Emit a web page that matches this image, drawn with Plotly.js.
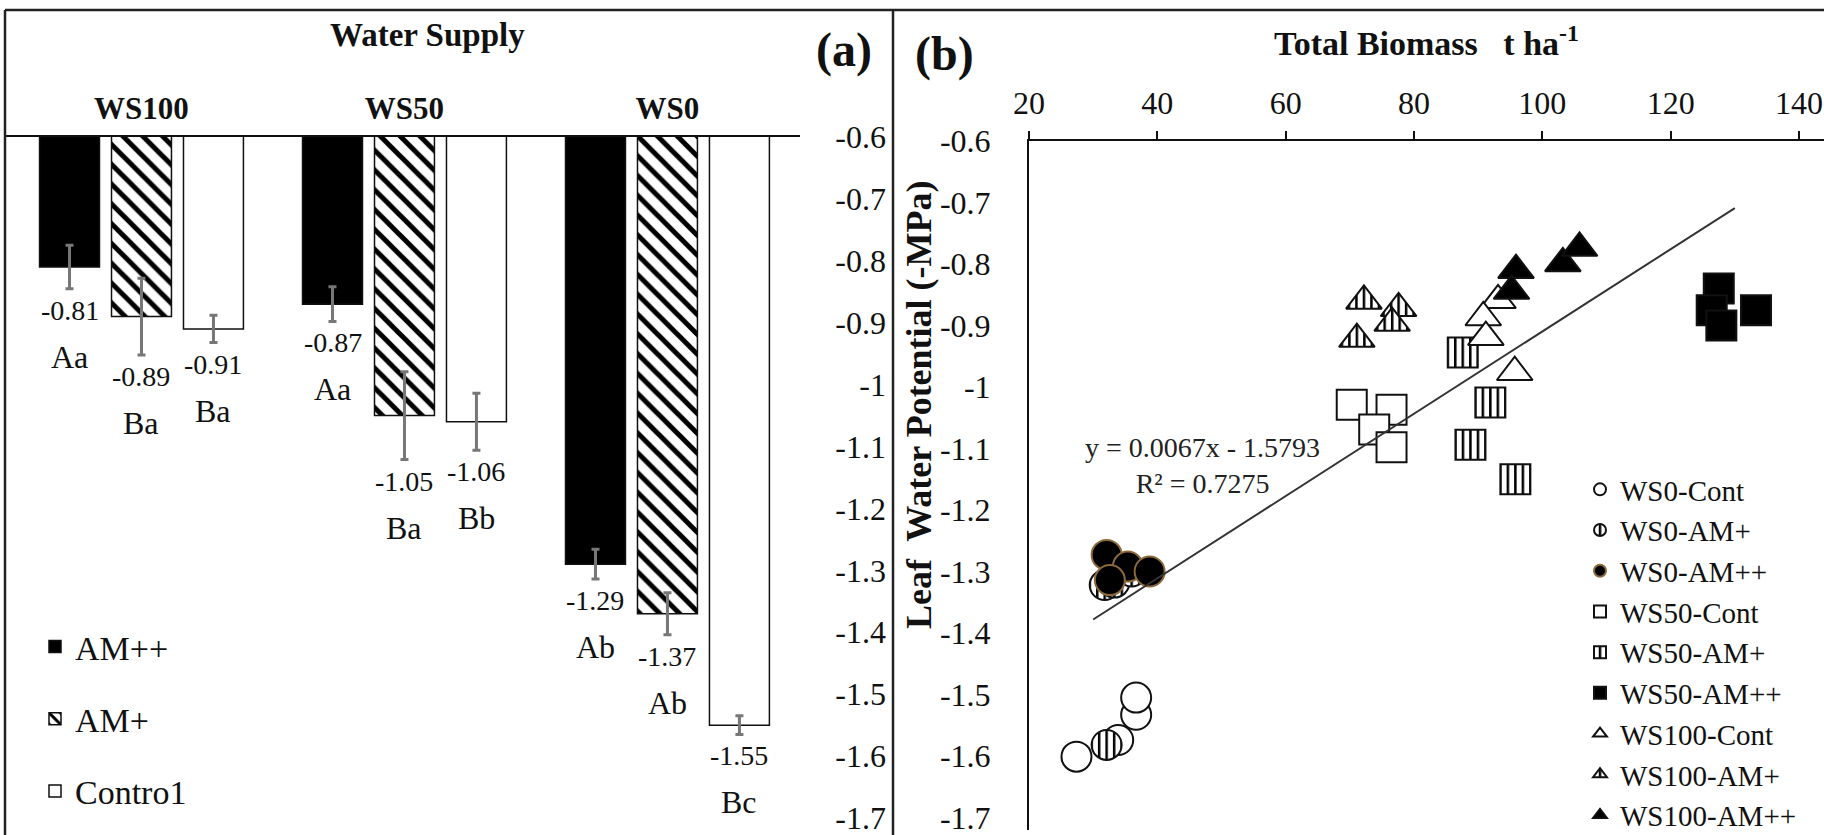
<!DOCTYPE html>
<html>
<head>
<meta charset="utf-8">
<script src="https://cdn.plot.ly/plotly-3.0.1.min.js"></script>
<style>
html,body{margin:0;padding:0;background:#ffffff;}
#chart{width:1824px;height:835px;}
</style>
</head>
<body>
<div id="chart"></div>
<script>
// ---------------- Panel (a): bar chart data ----------------
const waterSupply = ['WS100', 'WS50', 'WS0'];
const barNames = ['AM++', 'AM+', 'Contro1'];
const lwpAMpp = [-0.81, -0.87, -1.29];
const lwpAMp  = [-0.89, -1.05, -1.37];
const lwpCtrl = [-0.91, -1.06, -1.55];
const errAMpp = [0.035, 0.028, 0.024];
const errAMp  = [0.062, 0.071, 0.034];
const errCtrl = [0.022, 0.046, 0.015];
const letAMpp = ['Aa', 'Aa', 'Ab'];
const letAMp  = ['Ba', 'Ba', 'Ab'];
const letCtrl = ['Ba', 'Bb', 'Bc'];

// shared y ticks (leaf water potential)
const yTickVals = [-0.6, -0.7, -0.8, -0.9, -1.0, -1.1, -1.2, -1.3, -1.4, -1.5, -1.6, -1.7];
const yTickText = ['-0.6', '-0.7', '-0.8', '-0.9', '-1', '-1.1', '-1.2', '-1.3', '-1.4', '-1.5', '-1.6', '-1.7'];

// ---------------- Panel (b): scatter data ----------------
const ws0ContX   = [27.4, 33.9, 36.7, 36.7];
const ws0ContY   = [-1.601, -1.574, -1.533, -1.505];
const ws0AMpX    = [31.8, 33.3, 36.0, 32.1];
const ws0AMpY    = [-1.322, -1.318, -1.300, -1.582];
const ws0AMppX   = [32.1, 35.4, 38.8, 32.6];
const ws0AMppY   = [-1.273, -1.292, -1.300, -1.314];
const ws50ContX  = [70.3, 76.5, 73.8, 76.5];
const ws50ContY  = [-1.029, -1.037, -1.069, -1.098];
const ws50AMpX   = [87.6, 91.9, 88.8, 95.8];
const ws50AMpY   = [-0.944, -1.025, -1.094, -1.150];
const ws50AMppX  = [127.5, 126.4, 127.9, 133.3];
const ws50AMppY  = [-0.840, -0.875, -0.900, -0.875];
const ws100ContX = [93.1, 90.8, 91.2, 95.7];
const ws100ContY = [-0.859, -0.887, -0.919, -0.976];
const ws100AMpX  = [72.2, 77.6, 71.1, 76.6];
const ws100AMpY  = [-0.860, -0.872, -0.922, -0.896];
const ws100AMppX = [95.9, 95.2, 103.2, 105.8];
const ws100AMppY = [-0.810, -0.844, -0.799, -0.774];
const trendX = [30, 130];
const trendY = [-1.378, -0.709];
const eqLines = ['y = 0.0067x - 1.5793', 'R\u00b2 = 0.7275'];
const eqPos = [47.0, -1.127];

// ---------------- helpers ----------------
const W = 1824, H = 835;
const px = v => v / W;
const py = v => 1 - v / H;
const SERIF = '"Liberation Serif", "Times New Roman", serif';
const INK = '#111111';

const BARGAP = 0.179, BARGROUPGAP = 0.167;

const barVals = [lwpAMpp, lwpAMp, lwpCtrl];
const barErrs = [errAMpp, errAMp, errCtrl];
const barLets = [letAMpp, letAMp, letCtrl];

const barStyles = [
  {color: '#000000'},
  {color: '#ffffff', pattern: {shape: '\\', fgcolor: '#000000', bgcolor: '#ffffff', size: 14, solidity: 0.36, fillmode: 'replace'}},
  {color: '#ffffff'}
];

const traces = [];
for (let s = 0; s < 3; s++) {
  traces.push({
    type: 'bar', name: barNames[s], x: waterSupply, y: barVals[s],
    xaxis: 'x', yaxis: 'y', legend: 'legend', legendgroup: 'g' + s,
    marker: Object.assign({line: {color: INK, width: 1.5}}, barStyles[s]),
    error_y: {type: 'data', array: barErrs[s], visible: true, color: '#777777', thickness: 3, width: 4},
    hoverinfo: 'skip'
  });
}

function sc(name, xs, ys, symbol, fill, lineColor, size, uid) {
  return {
    type: 'scatter', mode: 'markers', name: name, x: xs, y: ys,
    xaxis: 'x2', yaxis: 'y2', legend: 'legend2', uid: uid,
    marker: {symbol: symbol, size: size, color: fill, line: {color: lineColor, width: 2}},
    cliponaxis: false, hoverinfo: 'skip'
  };
}
traces.push(sc('WS0-Cont',   ws0ContX,   ws0ContY,   'circle',      '#ffffff', INK, 30, 'ws0cont'));
traces.push(sc('WS0-AM+',    ws0AMpX,    ws0AMpY,    'circle',      '#ffffff', INK, 30, 'ws0amp'));
traces.push(sc('WS0-AM++',   ws0AMppX,   ws0AMppY,   'circle',      '#000000', '#8a6a3a', 30, 'ws0ampp'));
traces.push(sc('WS50-Cont',  ws50ContX,  ws50ContY,  'square',      '#ffffff', INK, 30, 'ws50cont'));
traces.push(sc('WS50-AM+',   ws50AMpX,   ws50AMpY,   'square',      '#ffffff', INK, 30, 'ws50amp'));
traces.push(sc('WS50-AM++',  ws50AMppX,  ws50AMppY,  'square',      '#000000', INK, 30, 'ws50ampp'));
traces.push(sc('WS100-Cont', ws100ContX, ws100ContY, 'triangle-up', '#ffffff', INK, 31, 'ws100cont'));
traces.push(sc('WS100-AM+',  ws100AMpX,  ws100AMpY,  'triangle-up', '#ffffff', INK, 31, 'ws100amp'));
traces.push(sc('WS100-AM++', ws100AMppX, ws100AMppY, 'triangle-up', '#000000', INK, 31, 'ws100ampp'));
traces.push({
  type: 'scatter', mode: 'lines', name: 'Linear trend', x: trendX, y: trendY,
  xaxis: 'x2', yaxis: 'y2', showlegend: false, line: {color: '#333333', width: 2}, hoverinfo: 'skip'
});

const STRIPED = ['ws0amp', 'ws50amp', 'ws100amp'];

// ---------------- annotations ----------------
const annotations = [];
const slot = (1 - BARGAP) / 3;
for (let s = 0; s < 3; s++) {
  for (let c = 0; c < 3; c++) {
    const v = barVals[s][c], e = barErrs[s][c];
    annotations.push({xref: 'x', yref: 'y', x: c + (s - 1) * slot, y: v - e, xanchor: 'center', yanchor: 'top',
      yshift: -4, showarrow: false, text: v.toFixed(2),
      font: {family: SERIF, size: 28, color: INK}});
    annotations.push({xref: 'x', yref: 'y', x: c + (s - 1) * slot, y: v - e, xanchor: 'center', yanchor: 'top',
      yshift: -48, showarrow: false, text: barLets[s][c],
      font: {family: SERIF, size: 32, color: INK}});
  }
}
function paperText(text, x, y, size, extra) {
  return Object.assign({xref: 'paper', yref: 'paper', x: px(x), y: py(y), xanchor: 'center', yanchor: 'middle',
    showarrow: false, text: text, font: {family: SERIF, size: size, color: INK, weight: 'bold'}}, extra || {});
}
annotations.push(paperText('Water Supply', 427, 35, 33));
annotations.push(paperText('(a)', 844, 50, 48));
annotations.push(paperText('(b)', 945, 54, 48));
annotations.push(paperText('Leaf\u00a0 Water Potential (-MPa)', 919, 405, 36, {textangle: -90}));
annotations.push({xref: 'x2', yref: 'y2', x: eqPos[0], y: eqPos[1], xanchor: 'center', yanchor: 'middle', showarrow: false,
  text: eqLines.join('<br>'), font: {family: SERIF, size: 28, color: '#222222'}});

// ---------------- frame shapes ----------------
const frameLine = {color: '#222222', width: 2.5};
const shapes = [
  {type: 'line', xref: 'paper', yref: 'paper', x0: px(5), x1: 1, y0: py(10), y1: py(10), line: frameLine},
  {type: 'line', xref: 'paper', yref: 'paper', x0: px(5), x1: px(5), y0: 0, y1: py(10), line: frameLine},
  {type: 'line', xref: 'paper', yref: 'paper', x0: px(893), x1: px(893), y0: 0, y1: py(10), line: frameLine}
];

const tickFont = {family: SERIF, size: 32, color: INK};

const layout = {
  width: W, height: H,
  margin: {l: 0, r: 0, t: 0, b: 0, pad: 0, autoexpand: false},
  paper_bgcolor: '#ffffff', plot_bgcolor: 'rgba(0,0,0,0)',
  font: {family: SERIF, color: INK},
  barmode: 'group', bargap: BARGAP, bargroupgap: BARGROUPGAP,
  xaxis: {
    domain: [px(5), px(800)], range: [-0.519, 2.504], type: 'category', side: 'top', anchor: 'y',
    showline: true, linecolor: INK, linewidth: 2, ticks: '', showgrid: false, zeroline: false,
    tickfont: {family: SERIF, size: 31, color: INK, weight: 'bold'}, ticklabelstandoff: 4
  },
  yaxis: {
    domain: [py(818), py(137)], range: [-1.7, -0.6], anchor: 'free', position: px(886), side: 'left',
    showline: false, showgrid: false, zeroline: false, ticks: '', ticklabeloverflow: 'allow',
    tickmode: 'array', tickvals: yTickVals, ticktext: yTickText, tickfont: tickFont
  },
  xaxis2: {
    domain: [px(1029), 1], range: [20, 143.9], side: 'top', anchor: 'y2',
    showline: true, linecolor: INK, linewidth: 2, ticks: 'outside', ticklen: 8, tickwidth: 2, tickcolor: INK,
    tick0: 20, dtick: 20, showgrid: false, zeroline: false, tickfont: tickFont, ticklabelstandoff: 4,
    ticklabeloverflow: 'allow',
    title: {text: 'Total Biomass\u00a0\u00a0 t ha<sup>-1</sup>', font: {family: SERIF, size: 34, color: INK, weight: 'bold'}, standoff: 19}
  },
  yaxis2: {
    domain: [py(830), py(141)], range: [-1.7203, -0.6], anchor: 'x2', side: 'left',
    showline: true, linecolor: INK, linewidth: 2, ticks: '', showgrid: false, zeroline: false,
    ticklabeloverflow: 'allow',
    tickmode: 'array', tickvals: yTickVals, ticktext: yTickText, tickfont: tickFont, ticklabelstandoff: 30
  },
  legend: {
    x: px(35), xanchor: 'left', y: py(618), yanchor: 'top', bgcolor: 'rgba(0,0,0,0)',
    font: {family: SERIF, size: 34, color: INK}, tracegroupgap: 25, itemclick: false
  },
  legend2: {
    x: px(1580), xanchor: 'left', y: py(464), yanchor: 'top', bgcolor: 'rgba(0,0,0,0)',
    font: {family: SERIF, size: 29, color: INK}, itemsizing: 'constant', tracegroupgap: 0, itemclick: false
  },
  annotations: annotations,
  shapes: shapes,
  showlegend: true
};

// Vertical-stripe fill for the AM+ scatter markers (styling of library-drawn points)
function addStripes() {
  try {
    const gd = document.getElementById('chart');
    const svg = gd.querySelector('svg.main-svg');
    if (!svg) return;
    const NS = 'http://www.w3.org/2000/svg';
    if (!document.getElementById('vstripes')) {
      let defs = svg.querySelector('defs');
      if (!defs) { defs = document.createElementNS(NS, 'defs'); svg.insertBefore(defs, svg.firstChild); }
      const pat = document.createElementNS(NS, 'pattern');
      pat.setAttribute('id', 'vstripes');
      pat.setAttribute('patternUnits', 'userSpaceOnUse');
      pat.setAttribute('x', '-1.25'); pat.setAttribute('y', '0');
      pat.setAttribute('width', '7.5'); pat.setAttribute('height', '10');
      const r1 = document.createElementNS(NS, 'rect');
      r1.setAttribute('width', '7.5'); r1.setAttribute('height', '10'); r1.setAttribute('fill', '#ffffff');
      const r2 = document.createElementNS(NS, 'rect');
      r2.setAttribute('x', '0'); r2.setAttribute('width', '2.5'); r2.setAttribute('height', '10'); r2.setAttribute('fill', '#000000');
      pat.appendChild(r1); pat.appendChild(r2);
      defs.appendChild(pat);
    }
    const findTrace = d => {
      if (!d) return null;
      if (d.trace) return d.trace;
      if (Array.isArray(d)) { for (const e of d) { const t = findTrace(e); if (t) return t; } }
      return null;
    };
    gd.querySelectorAll('g.trace.scatter').forEach(g => {
      const t = findTrace(g.__data__);
      if (t && STRIPED.includes(t.uid)) g.querySelectorAll('path.point').forEach(p => { p.style.fill = 'url(#vstripes)'; });
    });
    gd.querySelectorAll('g.traces').forEach(g => {
      const t = findTrace(g.__data__);
      if (t && STRIPED.includes(t.uid)) g.querySelectorAll('path.scatterpts').forEach(p => { p.style.fill = 'url(#vstripes)'; });
    });
  } catch (err) { /* keep default fill */ }
}

const gd = document.getElementById('chart');
Plotly.newPlot(gd, traces, layout, {displayModeBar: false, staticPlot: true}).then(() => {
  addStripes();
  gd.on('plotly_afterplot', addStripes);
});
</script>
</body>
</html>
